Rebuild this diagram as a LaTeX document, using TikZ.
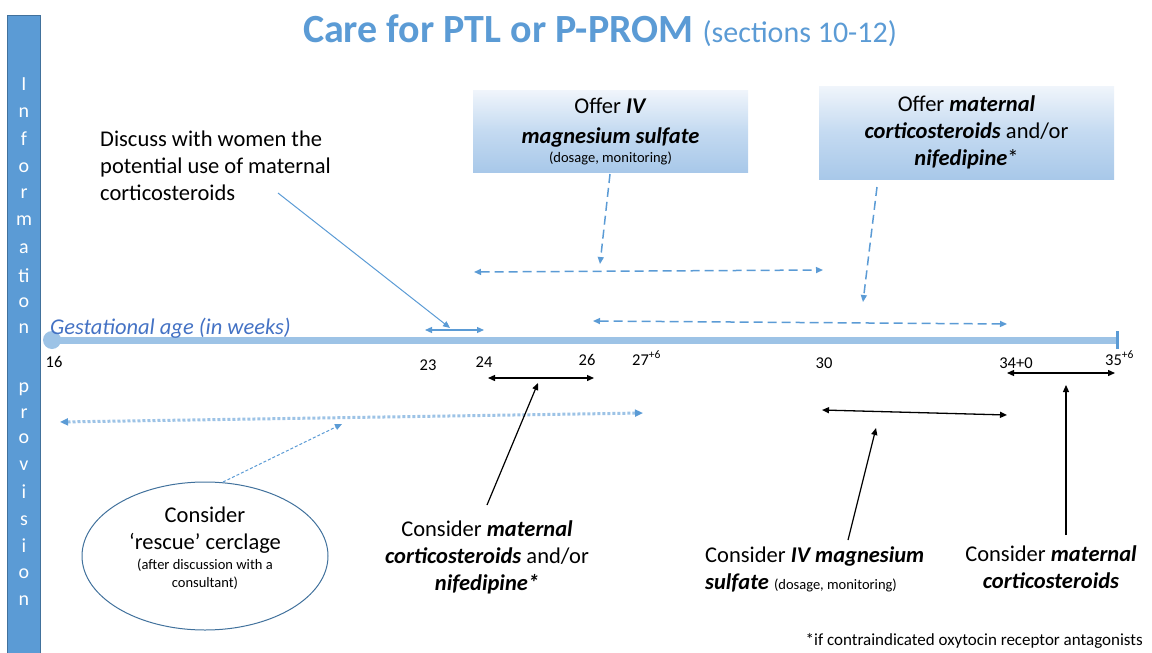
\documentclass[tikz,border=0pt]{standalone}
\usepackage{fontspec}
\setmainfont{Carlito}
\usetikzlibrary{arrows.meta,shapes.geometric}
\definecolor{mainblue}{RGB}{91,155,213}
\definecolor{tlblue}{RGB}{157,195,230}
\definecolor{darkblue}{RGB}{65,113,156}
\definecolor{gestblue}{RGB}{68,114,196}
\definecolor{boxtop}{RGB}{240,245,251}
\definecolor{boxmid}{RGB}{196,218,241}
\definecolor{boxbot}{RGB}{168,200,233}
\tikzset{
  txt/.style={font=\fontsize{22.5}{27}\selectfont, align=center, inner sep=0pt},
  barletter/.style={text=white, font=\fontsize{20}{22}\selectfont, anchor=base, inner sep=0pt},
  weeklbl/.style={font=\fontsize{16.5}{18}\selectfont, anchor=base, inner sep=0pt},
  offerbox/.style={rectangle, top color=boxtop, bottom color=boxbot, middle color=boxmid, txt},
  bluetip/.style={-{Triangle[length=7pt,width=6pt]}},
  blueboth/.style={{Triangle[length=7pt,width=6pt]}-{Triangle[length=7pt,width=6pt]}},
  bluedash/.style={mainblue, line width=1.5pt, dash pattern=on 9pt off 5pt},
  blackboth/.style={black, line width=1.3pt, {Triangle[length=7pt,width=6pt]}-{Triangle[length=7pt,width=6pt]}},
  blackptr/.style={black, line width=1.2pt, -{Triangle[length=7pt,width=6pt]}},
}
\newcommand{\bi}[1]{\textbf{\textit{#1}}}
\newcommand{\sm}{\fontsize{14.5}{17}\selectfont}
\begin{document}
\begin{tikzpicture}[x=1pt,y=-1pt]
\useasboundingbox (0,0) rectangle (1152,653);
% left bar
\node[rectangle, fill=mainblue, draw=darkblue, line width=0.8pt, minimum width=33pt, minimum height=640pt, inner sep=0pt] (bar) at (24,335) {};
\foreach \l/\yy [count=\i] in {I/90,n/117,f/145,o/172,r/198,m/225,a/253,ti/282,o/307,n/333,p/392,r/418,o/443,v/470,i/498,s/525,i/552,o/578,n/605}
  \node[barletter] (bl\i) at (24,\yy) {\l};
% title
\node[anchor=base, text=mainblue, inner sep=0pt] (title) at (600,42) {\fontsize{40}{46}\selectfont\textbf{Care for PTL or P-PROM} \fontsize{30}{34}\selectfont(sections 10-12)};
% timeline
\coordinate (tlL) at (52,340);
\coordinate (tlR) at (1117,340);
\draw[tlblue, line width=7pt] (tlL) -- (tlR);
\node[circle, fill=tlblue, minimum size=18pt, inner sep=0pt] (tlcirc) at (tlL) {};
\draw[mainblue, line width=3pt] (1117,331) -- (1117,349);
\node[anchor=base west, text=gestblue, font=\fontsize{22.5}{26}\selectfont\itshape, inner sep=0pt] (gest) at (50,334) {Gestational age (in weeks)};
% week labels
\node[weeklbl] (w16) at (54,367) {16};
\node[weeklbl] (w23) at (428,370) {23};
\node[weeklbl] (w24) at (484,367) {24};
\node[weeklbl] (w26) at (587,365) {26};
\node[weeklbl, anchor=base west] (w27) at (632,365) {27\textsuperscript{+6}};
\node[weeklbl] (w30) at (824,368) {30};
\node[weeklbl] (w34) at (1016,368) {34+0};
\node[weeklbl, anchor=base west] (w35) at (1105,365) {35\textsuperscript{+6}};
% top-left text
\node[txt, align=left, anchor=west] (discuss) at (100,166) {Discuss with women the\\potential use of maternal\\corticosteroids};
\coordinate (dA) at (278,193);
\coordinate (dB) at (450,328);
\draw[mainblue, line width=1pt, bluetip] (dA) -- (dB);
\coordinate (s23) at (425,330);
\coordinate (s24) at (484,330);
\draw[mainblue, line width=1.2pt, blueboth] (s23) -- (s24);
% offer boxes
\node[offerbox, minimum width=275pt, minimum height=82pt] (mag) at (610.5,131) {Offer \bi{IV}\\[3pt] \bi{magnesium sulfate}\\[-8pt] {\sm (dosage, monitoring)}};
\node[offerbox, minimum width=295pt, minimum height=93pt] (cort) at (966.5,132.5) {Offer \bi{maternal}\\ \bi{corticosteroids} and/or\\ \bi{nifedipine}*};
\coordinate (magA) at (610,174);
\coordinate (magB) at (600,264);
\draw[bluedash, bluetip] (magA) -- (magB);
\coordinate (cortA) at (877,187);
\coordinate (cortB) at (863,302);
\draw[bluedash, bluetip] (cortA) -- (cortB);
\coordinate (up1) at (474,272);
\coordinate (up2) at (823,270);
\draw[bluedash, blueboth] (up1) -- (up2);
\coordinate (lo1) at (593,321);
\coordinate (lo2) at (1007,324);
\draw[bluedash, blueboth] (lo1) -- (lo2);
% dotted
\coordinate (dt1) at (60,422);
\coordinate (dt2) at (643,413);
\draw[tlblue, line width=3pt, dash pattern=on 3pt off 2pt, {Triangle[length=8pt,width=7pt,color=mainblue]}-{Triangle[length=8pt,width=7pt,color=mainblue]}] (dt1) -- (dt2);
% black ranges
\coordinate (b24) at (488,378);
\coordinate (b26) at (594,378);
\draw[blackboth] (b24) -- (b26);
\coordinate (b34) at (1007,373);
\coordinate (b35) at (1115,373);
\draw[blackboth] (b34) -- (b35);
\coordinate (b30a) at (822,410);
\coordinate (b34a) at (1007,415);
\draw[blackboth] (b30a) -- (b34a);
% ellipse
\node[ellipse, draw=darkblue, line width=1pt, minimum width=246pt, minimum height=148pt, inner sep=0pt] (cerc) at (205,556) {};
\node[txt] (cercT) at (205,548) {Consider\\ ‘rescue’ cerclage\\[-7pt] {\sm (after discussion with a}\\[-9pt] {\sm consultant)}};
\coordinate (cercA) at (223,482);
\coordinate (cercB) at (342,424);
\draw[mainblue, line width=1pt, dash pattern=on 3pt off 2pt, bluetip] (cercA) -- (cercB);
% bottom texts
\node[txt] (cons1) at (487,557) {Consider \bi{maternal}\\ \bi{corticosteroids} and/or\\ \bi{nifedipine*}};
\coordinate (c1a) at (487,505);
\coordinate (c1b) at (538,383);
\draw[blackptr] (c1a) -- (c1b);
\node[txt, align=left, anchor=west] (cons2) at (705,569) {Consider \bi{IV magnesium}\\ \bi{sulfate} {\sm (dosage, monitoring)}};
\coordinate (c2a) at (848,540);
\coordinate (c2b) at (876,428);
\draw[blackptr] (c2a) -- (c2b);
\node[txt] (cons3) at (1051,567) {Consider \bi{maternal}\\ \bi{corticosteroids}};
\coordinate (c3a) at (1066,535);
\coordinate (c3b) at (1066,385);
\draw[blackptr] (c3a) -- (c3b);
% footnote
\node[anchor=base east, font=\fontsize{17}{20}\selectfont, inner sep=0pt] (foot) at (1143,645) {*if contraindicated oxytocin receptor antagonists};
\end{tikzpicture}
\end{document}
